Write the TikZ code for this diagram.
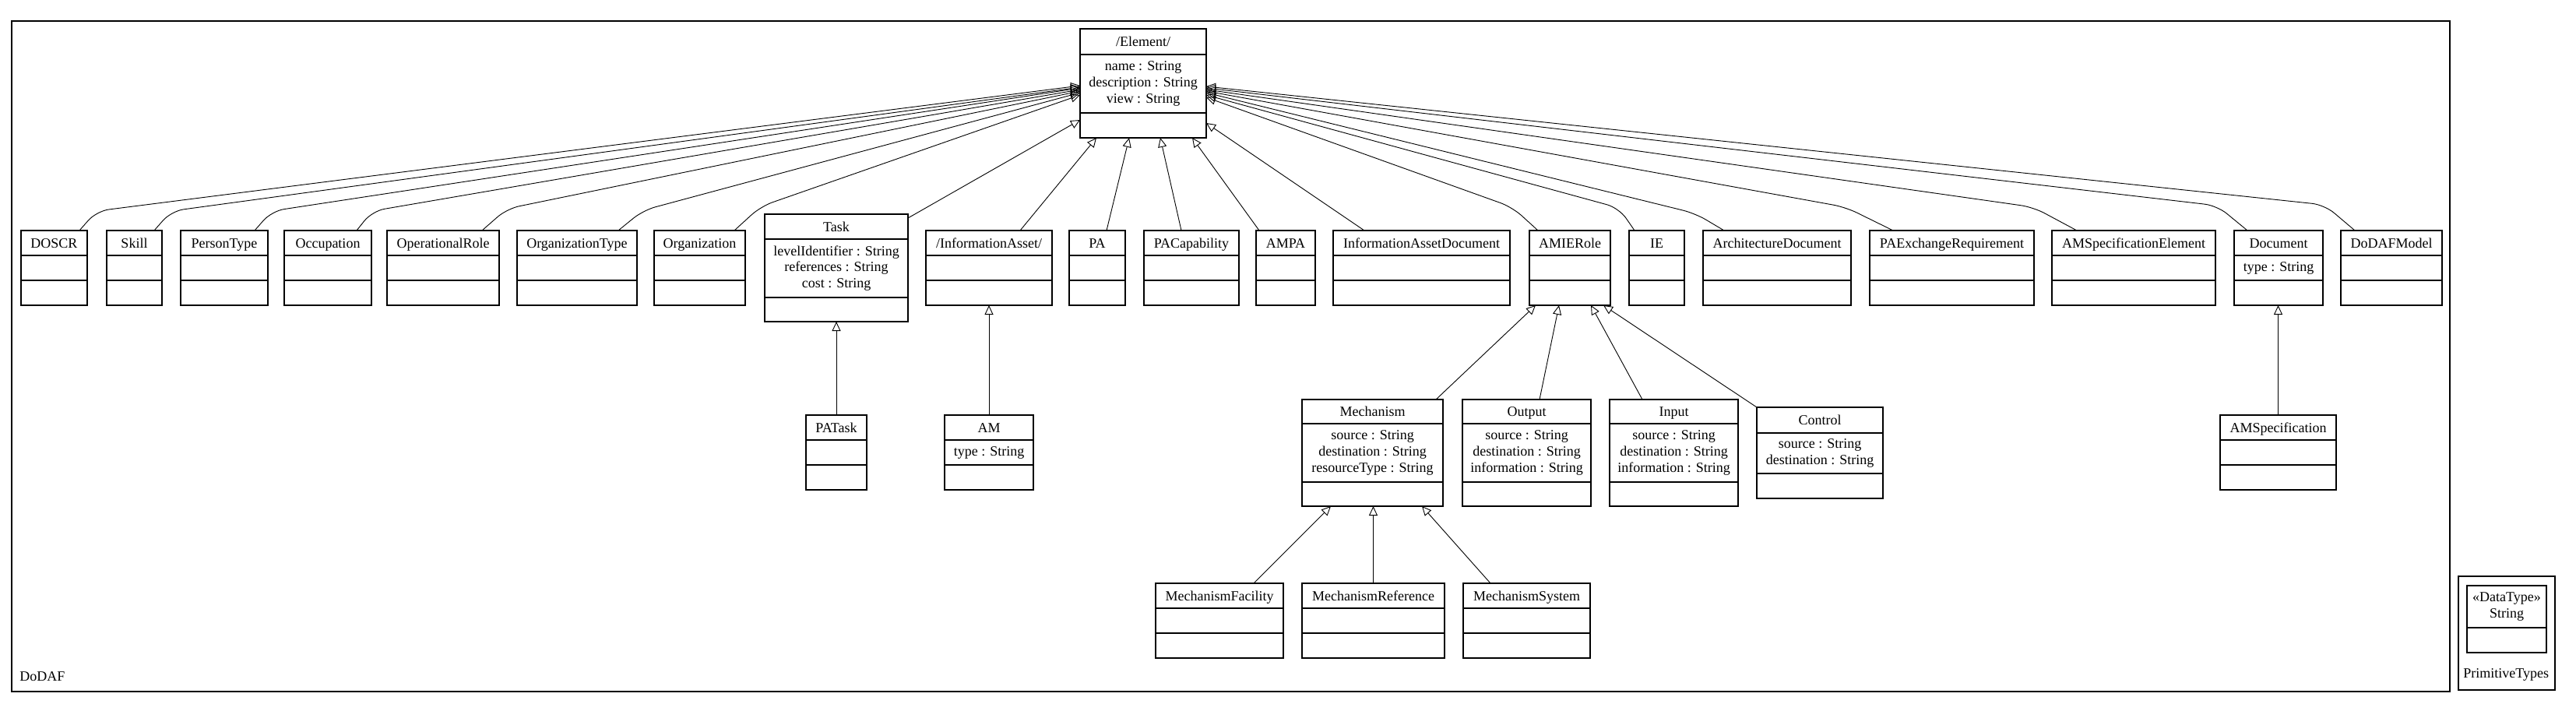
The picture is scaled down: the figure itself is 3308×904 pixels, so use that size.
\documentclass[tikz,border=0pt]{standalone}
\usepackage{fontspec}
\setmainfont{Liberation Serif}
\usetikzlibrary{arrows.meta,calc}

\tikzset{
  classbox/.style={draw, line width=0.6pt, inner sep=0pt, outer sep=0pt, anchor=north west},
  classtitle/.style={inner sep=0pt, text height=6pt, text depth=0pt},
  classattr/.style={inner sep=0pt, align=center},
  inherit/.style={-{Triangle[open, length=6pt, width=5.5pt]}, line width=0.45pt, rounded corners=8pt},
}

% class box: name, left, right, top, first rule, second rule, bottom, title, attributes
\newcommand{\umlclass}[9]{%
  \node[classbox, minimum width={(#3-#2)*0.5pt}, minimum height={(#7-#4)*0.5pt}] (#1) at (#2,#4) {};
  \draw[line width=0.6pt] (#2,#5) -- (#3,#5) (#2,#6) -- (#3,#6);
  \node[classtitle] (#1-title) at ({(#2+#3)/2},{(#4+#5)/2}) {#8};
  \node[classattr] (#1-attr) at ({(#2+#3)/2},{(#5+#6)/2}) {#9};
}

\begin{document}
\begin{tikzpicture}[x=0.5pt, y=-0.5pt, font={\fontsize{9pt}{10.3pt}\selectfont}]
\useasboundingbox (0,0) rectangle (3308,904);

% package frames
\node[classbox, minimum width=1565.5pt, minimum height=430.5pt] (dodaf) at (15,27) {};
\node[anchor=west, inner sep=0pt] (dodaf-label) at (25,869) {DoDAF};
\node[classbox, minimum width=62pt, minimum height=73pt] (primitivetypes) at (3157,740) {};
\node[anchor=west, inner sep=0pt] (primitivetypes-label) at (3163,866) {PrimitiveTypes};

% root
\umlclass{element}{1387}{1549}{37}{70}{145}{177}{/Element/}{name : String\\description : String\\view : String}

% first row
\umlclass{doscr}{27}{112}{296}{328}{360}{392}{DOSCR}{}
\umlclass{skill}{137}{208}{296}{328}{360}{392}{Skill}{}
\umlclass{persontype}{232}{344}{296}{328}{360}{392}{PersonType}{}
\umlclass{occupation}{365}{477}{296}{328}{360}{392}{Occupation}{}
\umlclass{operationalrole}{497}{641}{296}{328}{360}{392}{OperationalRole}{}
\umlclass{organizationtype}{664}{818}{296}{328}{360}{392}{OrganizationType}{}
\umlclass{organization}{840}{957}{296}{328}{360}{392}{Organization}{}
\umlclass{task}{982}{1166}{275}{307}{382}{413}{Task}{levelIdentifier : String\\references : String\\cost : String}
\umlclass{informationasset}{1189}{1351}{296}{328}{360}{392}{/InformationAsset/}{}
\umlclass{pa}{1373}{1445}{296}{328}{360}{392}{PA}{}
\umlclass{pacapability}{1469}{1591}{296}{328}{360}{392}{PACapability}{}
\umlclass{ampa}{1613}{1689}{296}{328}{360}{392}{AMPA}{}
\umlclass{infoassetdoc}{1712}{1939}{296}{328}{360}{392}{InformationAssetDocument}{}
\umlclass{amierole}{1964}{2068}{296}{328}{360}{392}{AMIERole}{}
\umlclass{ie}{2092}{2163}{296}{328}{360}{392}{IE}{}
\umlclass{archdoc}{2187}{2377}{296}{328}{360}{392}{ArchitectureDocument}{}
\umlclass{paexreq}{2401}{2612}{296}{328}{360}{392}{PAExchangeRequirement}{}
\umlclass{amspecelem}{2635}{2845}{296}{328}{360}{392}{AMSpecificationElement}{}
\umlclass{document}{2869}{2983}{296}{328}{360}{392}{Document}{type : String}
\umlclass{dodafmodel}{3006}{3136}{296}{328}{360}{392}{DoDAFModel}{}

% second row
\umlclass{patask}{1035}{1113}{533}{565}{597}{629}{PATask}{}
\umlclass{am}{1213}{1327}{533}{565}{597}{629}{AM}{type : String}
\umlclass{mechanism}{1672}{1853}{513}{544}{619}{650}{Mechanism}{source : String\\destination : String\\resourceType : String}
\umlclass{output}{1878}{2043}{513}{544}{619}{650}{Output}{source : String\\destination : String\\information : String}
\umlclass{input}{2067}{2232}{513}{544}{619}{650}{Input}{source : String\\destination : String\\information : String}
\umlclass{control}{2256}{2418}{523}{556}{608}{640}{Control}{source : String\\destination : String}
\umlclass{amspec}{2851}{3000}{533}{565}{597}{629}{AMSpecification}{}

% third row
\umlclass{mechfacility}{1484}{1648}{749}{781}{813}{845}{MechanismFacility}{}
\umlclass{mechreference}{1672}{1855}{749}{781}{813}{845}{MechanismReference}{}
\umlclass{mechsystem}{1879}{2042}{749}{781}{813}{845}{MechanismSystem}{}

% data type
\node[classbox, minimum width=51pt, minimum height=43pt] (string) at (3168,752) {};
\draw[line width=0.6pt] (3168,806) -- (3270,806);
\node[classattr] (string-title) at (3219,779) {«DataType»\\String};

% generalisations into Element
\draw[inherit] ($(doscr.north west)+(75,0)$) -- ++(22,-25) -- ($(element.north west)+(0,73)$);
\draw[inherit] ($(skill.north west)+(61,0)$) -- ++(22,-25) -- ($(element.north west)+(0,75)$);
\draw[inherit] ($(persontype.north west)+(95,0)$) -- ++(22,-25) -- ($(element.north west)+(0,76)$);
\draw[inherit] ($(occupation.north west)+(93,0)$) -- ++(20,-25) -- ($(element.north west)+(0,78)$);
\draw[inherit] ($(operationalrole.north west)+(122,0)$) -- ++(32,-28) -- ($(element.north west)+(0,80)$);
\draw[inherit] ($(organizationtype.north west)+(130,0)$) -- ++(32,-26) -- ($(element.north west)+(0,82)$);
\draw[inherit] ($(organization.north west)+(103,0)$) -- ++(34,-31) -- ($(element.north west)+(0,85)$);
\draw[inherit] ($(task.north east)+(0,5)$) -- ($(element.north west)+(0,117)$);
\draw[inherit] ($(informationasset.north west)+(121,0)$) -- ($(element.south west)+(21,0)$);
\draw[inherit] ($(pa.north west)+(48,0)$) -- ($(element.south west)+(63,0)$);
\draw[inherit] ($(pacapability.north west)+(48,0)$) -- ($(element.south west)+(103,0)$);
\draw[inherit] ($(ampa.north west)+(4,0)$) -- ($(element.south west)+(144,0)$);
\draw[inherit] ($(infoassetdoc.north west)+(40,0)$) -- ($(element.north east)+(0,121)$);
\draw[inherit] ($(amierole.north west)+(11,0)$) -- ++(-33,-30) -- ($(element.north east)+(0,88)$);
\draw[inherit] ($(ie.north west)+(7,0)$) -- ++(-20,-29) -- ($(element.north east)+(0,85)$);
\draw[inherit] ($(archdoc.north west)+(27,0)$) -- ++(-37,-22) -- ($(element.north east)+(0,82)$);
\draw[inherit] ($(paexreq.north west)+(30,0)$) -- ++(-61,-30) -- ($(element.north east)+(0,80)$);
\draw[inherit] ($(amspecelem.north west)+(32,0)$) -- ++(-56,-30) -- ($(element.north east)+(0,78)$);
\draw[inherit] ($(document.north west)+(17,0)$) -- ++(-39,-32) -- ($(element.north east)+(0,76)$);
\draw[inherit] ($(dodafmodel.north west)+(18,0)$) -- ++(-39,-33) -- ($(element.north east)+(0,74)$);

% lower generalisations
\draw[inherit] (patask.north) -- (patask.north |- task.south);
\draw[inherit] (am.north) -- (am.north |- informationasset.south);
\draw[inherit] (amspec.north) -- (amspec.north |- document.south);
\draw[inherit] ($(mechanism.north west)+(172,0)$) -- ($(amierole.south west)+(8,0)$);
\draw[inherit] ($(output.north west)+(99,0)$) -- ($(amierole.south west)+(38,0)$);
\draw[inherit] ($(input.north west)+(42,0)$) -- ($(amierole.south west)+(79,0)$);
\draw[inherit] (control.north west) -- ($(amierole.south west)+(95,0)$);
\draw[inherit] ($(mechfacility.north west)+(126,0)$) -- ($(mechanism.south west)+(37,0)$);
\draw[inherit] (mechreference.north) -- (mechreference.north |- mechanism.south);
\draw[inherit] ($(mechsystem.north west)+(35,0)$) -- ($(mechanism.south west)+(154,0)$);
\end{tikzpicture}
\end{document}
